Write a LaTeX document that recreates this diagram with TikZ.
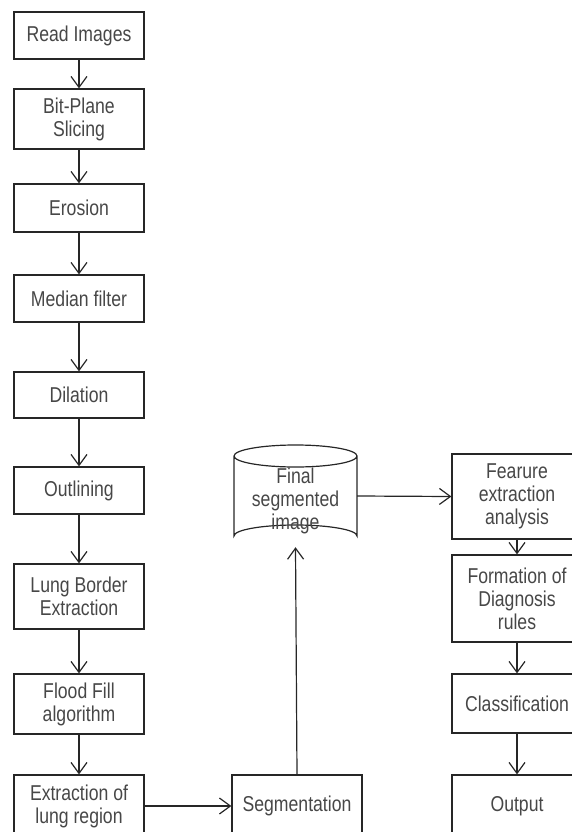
\documentclass[tikz,border=0pt]{standalone}
\usepackage{fontspec}
\setmainfont{Liberation Sans}[FakeStretch=0.82]
\usetikzlibrary{arrows.meta}
\begin{document}
\begin{tikzpicture}[x=1pt,y=-1pt,
  txt/.style={text=black!72, align=center, font=\fontsize{21.5}{23}\selectfont},
  box/.style={txt, draw=black!85, line width=1.2pt, rectangle, inner sep=0pt, minimum width=130pt},
  conn/.style={draw=black!85, line width=1.2pt, -{Straight Barb[length=11pt,width=16pt,line width=1.2pt]}}]
\useasboundingbox (0,0) rectangle (571,832);
% left column
\node[box, minimum height=47pt] (read) at (79,35.5) {Read Images};
\node[box, minimum height=60pt] (bit) at (79,119) {Bit-Plane\\Slicing};
\node[box, minimum height=48pt] (ero) at (79,208) {Erosion};
\node[box, minimum height=47pt] (med) at (79,298.5) {Median filter};
\node[box, minimum height=46pt] (dil) at (79,395) {Dilation};
\node[box, minimum height=47pt] (outl) at (79,490.5) {Outlining};
\node[box, minimum height=65pt] (lung) at (79,596.5) {Lung Border\\Extraction};
\node[box, minimum height=60pt] (flood) at (79,704) {Flood Fill\\algorithm};
\node[box, minimum height=62pt] (extr) at (79,806) {Extraction of\\lung region};
% middle
\node[box, minimum height=62pt] (seg) at (297,806) {Segmentation};
\draw[draw=black!85, line width=1.2pt] (234,456) arc[start angle=180, end angle=-180, x radius=61.5, y radius=11]
  (234,456) -- (234,536) arc[start angle=180, end angle=360, x radius=61.5, y radius=11] -- (357,456);
\node[draw=none, minimum width=123pt, minimum height=102pt, inner sep=0pt] (fin) at (295.5,496) {};
\node[txt] (fintext) at (295.5,501) {Final\\segmented\\image};
% right column
\node[box, minimum height=85pt] (feat) at (517,496.5) {Fearure\\extraction\\analysis};
\node[box, minimum height=87pt] (form) at (517,598.5) {Formation of\\Diagnosis\\rules};
\node[box, minimum height=59pt] (cls) at (517,703.5) {Classification};
\node[box, minimum height=62pt] (outp) at (517,806) {Output};
% connectors
\draw[conn] (read) -- (bit);
\draw[conn] (bit) -- (ero);
\draw[conn] (ero) -- (med);
\draw[conn] (med) -- (dil);
\draw[conn] (dil) -- (outl);
\draw[conn] (outl) -- (lung);
\draw[conn] (lung) -- (flood);
\draw[conn] (flood) -- (extr);
\draw[conn] (extr) -- (seg);
\draw[conn] (seg.north) -- (fin.south);
\draw[conn] (fin.east) -- (feat.west);
\draw[conn] (feat) -- (form);
\draw[conn] (form) -- (cls);
\draw[conn] (cls) -- (outp);
\end{tikzpicture}
\end{document}
